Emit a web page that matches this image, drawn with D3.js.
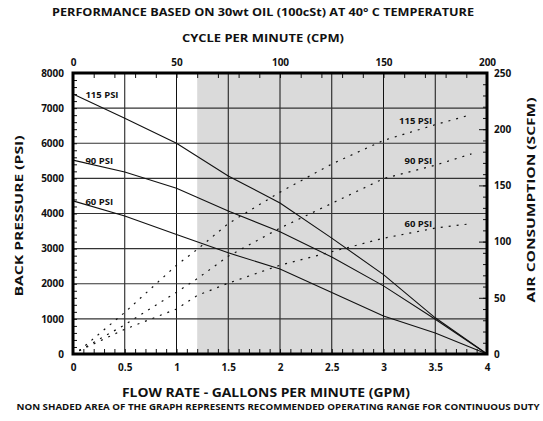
<!DOCTYPE html>
<meta charset="utf-8">
<head>
    <title>Performance curve</title>
    <script src="https://cdn.jsdelivr.net/npm/d3@7"></script>
</head>
<style>
    body{ margin:0; background:#fff; }
    text{ font-family: "Open Sans", Arial, sans-serif; font-weight:bold; fill:#111; }
    .tick line{ stroke:#111; }
    .domain{ display:none; }
</style>
<svg width="543" height="421"></svg>
<script>
    // flow rate (GPM) and back pressure (PSI) per air inlet pressure
    var gpm   = [0, 0.5, 1, 1.5, 2, 2.5, 3, 3.5, 4],
        bp115 = [7400, 6710, 6000, 5070, 4300, 3300, 2260, 1030, 0],
        bp90  = [5520, 5180, 4720, 4070, 3480, 2760, 1940, 990, 0],
        bp60  = [4360, 3930, 3400, 2880, 2420, 1750, 1080, 600, 0];

    // air consumption (SCFM)
    var airGpm = [0.06, 0.5, 1, 1.2, 1.5, 2, 2.5, 3, 3.5, 3.85],
        air115 = [3, 37, 79, 93, 116, 144, 169, 190, 204, 213],
        air90  = [3, 26, 55, 67, 87, 112, 134, 156, 168, 178],
        air60  = [3, 22, 40, 52, 63, 79, 91, 103, 112, 116];

    var seriesNames = ['115 PSI', '90 PSI', '60 PSI'];
    var shadeFrom = 1.2;

    var bottomTicks = [0, 0.5, 1, 1.5, 2, 2.5, 3, 3.5, 4],
        topTicks = [0, 50, 100, 150, 200],
        leftTicks = [0, 1000, 2000, 3000, 4000, 5000, 6000, 7000, 8000],
        rightTicks = [0, 50, 100, 150, 200, 250];

    var pl = 73, pr = 487, pt = 73, pb = 354;

    var svg = d3.select('svg');

    var x = d3.scaleLinear().domain([0, 4]).range([pl, pr]),
        xTop = d3.scaleLinear().domain([0, 200]).range([pl, pr]),
        y = d3.scaleLinear().domain([0, 8000]).range([pb, pt]),
        yR = d3.scaleLinear().domain([0, 250]).range([pb, pt]);

    // shaded area
    svg.append('rect')
        .attr('x', x(shadeFrom)).attr('y', pt)
        .attr('width', x(4) - x(shadeFrom)).attr('height', pb - pt)
        .style('fill', '#dadada');

    // grid
    var grid = svg.append('g');
    grid.selectAll('line.v').data(bottomTicks.slice(1, -1)).enter().append('line')
        .attr('x1', function(d){ return x(d); }).attr('x2', function(d){ return x(d); })
        .attr('y1', pt).attr('y2', pb)
        .style('stroke', '#111').style('stroke-width', 1);
    grid.selectAll('line.h').data(leftTicks.slice(1, -1)).enter().append('line')
        .attr('y1', function(d){ return y(d); }).attr('y2', function(d){ return y(d); })
        .attr('x1', pl).attr('x2', pr)
        .style('stroke', '#333').style('stroke-width', 1.2);

    // minor ticks (inside)
    function minor(axis, tr){
        svg.append('g').attr('transform', tr).call(axis.tickFormat('')).selectAll('.tick line').style('stroke-width', 1);
    }
    minor(d3.axisBottom(x).tickValues(d3.range(1, 40).map(function(i){ return i / 10; })).tickSize(-5), 'translate(0,' + pb + ')');
    minor(d3.axisTop(xTop).tickValues(d3.range(1, 20).map(function(i){ return i * 10; })).tickSize(-5), 'translate(0,' + pt + ')');
    minor(d3.axisLeft(y).tickValues(d3.range(1, 40).map(function(i){ return i * 200; })).tickSize(-4), 'translate(' + pl + ',0)');
    minor(d3.axisRight(yR).tickValues(d3.range(1, 25).map(function(i){ return i * 10; })).tickSize(-4), 'translate(' + pr + ',0)');
    minor(d3.axisRight(yR).tickValues(rightTicks.slice(1, -1)).tickSize(-8), 'translate(' + pr + ',0)');

    // curves
    var bpLine = d3.line().x(function(d){ return x(d[0]); }).y(function(d){ return y(d[1]); });
    var airLine = d3.line().x(function(d){ return x(d[0]); }).y(function(d){ return yR(d[1]); });

    var bps = [bp115, bp90, bp60], airs = [air115, air90, air60];

    bps.forEach(function(s, i){
        svg.append('path').datum(d3.zip(gpm, s)).attr('d', bpLine)
            .style('fill', 'none').style('stroke', '#111').style('stroke-width', 1.1);
        svg.append('text').attr('x', x(0.12)).attr('y', y(s[0]) + 4)
            .style('font-size', '9.5px').text(seriesNames[i]);
    });

    airs.forEach(function(s, i){
        svg.append('path').datum(d3.zip(airGpm, s)).attr('d', airLine)
            .style('fill', 'none').style('stroke', '#111').style('stroke-width', 1.2)
            .style('stroke-dasharray', '2,6');
        var at = d3.scaleLinear().domain(airGpm).range(s);
        svg.append('text').attr('x', x(3.47)).attr('y', yR(at(3.47)) - 2)
            .attr('text-anchor', 'end').style('font-size', '9.5px').text(seriesNames[i]);
    });

    // frame
    svg.append('rect').attr('x', pl).attr('y', pt)
        .attr('width', pr - pl).attr('height', pb - pt)
        .style('fill', 'none').style('stroke', '#000').style('stroke-width', 3);

    // labelled axes
    function labels(axis, tr){
        var g = svg.append('g').attr('transform', tr).call(axis.tickSize(0));
        g.selectAll('text').style('font-size', '10px').style('font-family', '"Open Sans", Arial, sans-serif').style('font-weight', 'bold');
        return g;
    }
    labels(d3.axisBottom(x).tickValues(bottomTicks).tickFormat(d3.format('')).tickPadding(10), 'translate(0,' + pb + ')');
    labels(d3.axisTop(xTop).tickValues(topTicks).tickPadding(7), 'translate(0,' + pt + ')');
    labels(d3.axisLeft(y).tickValues(leftTicks).tickFormat(d3.format('d')).tickPadding(9), 'translate(' + pl + ',0)');
    labels(d3.axisRight(yR).tickValues(rightTicks).tickPadding(7), 'translate(' + pr + ',0)');

    // titles
    function title(txt, px, py, size, len, rot){
        return svg.append('text').attr('text-anchor', 'middle')
            .attr('transform', 'translate(' + px + ',' + py + ')' + (rot ? ' rotate(' + rot + ')' : ''))
            .style('font-size', size + 'px')
            .attr('textLength', len).attr('lengthAdjust', 'spacingAndGlyphs')
            .text(txt);
    }
    title('PERFORMANCE BASED ON 30wt OIL (100cSt) AT 40\u00b0 C TEMPERATURE', 263, 16, 11, 422);
    title('CYCLE PER MINUTE (CPM)', 263, 42, 11, 162);
    title('FLOW RATE - GALLONS PER MINUTE (GPM)', 266, 397, 12, 288);
    title('NON SHADED AREA OF THE GRAPH REPRESENTS RECOMMENDED OPERATING RANGE FOR CONTINUOUS DUTY', 278, 410, 9.5, 523);
    title('BACK PRESSURE  (PSI)', 23, 216, 11, 161, -90);
    title('AIR CONSUMPTION  (SCFM)', 535, 200, 11, 205, -90);
</script>
